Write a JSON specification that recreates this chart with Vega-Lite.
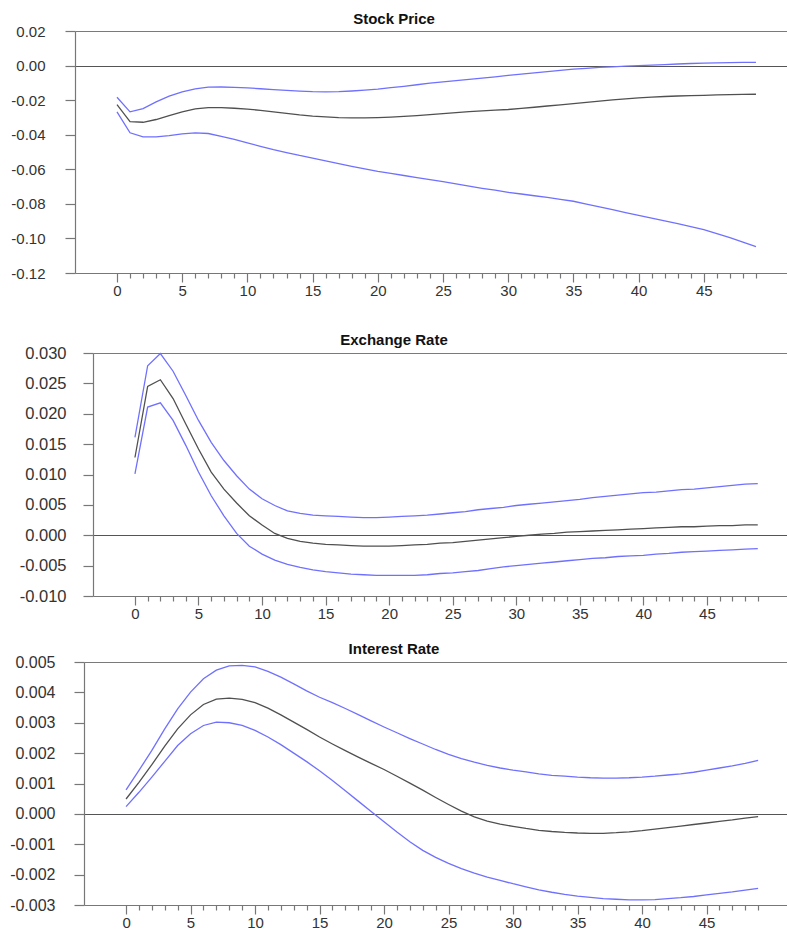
{
  "$schema": "https://vega.github.io/schema/vega-lite/v6.json",
  "padding": {"left": 0, "right": 0, "top": 12, "bottom": 0},
  "spacing": 0,
  "datasets": {
    "stock": [
      {"h": 0, "irf": -0.0226, "lo": -0.0268, "hi": -0.0183},
      {"h": 1, "irf": -0.0324, "lo": -0.0389, "hi": -0.0268},
      {"h": 2, "irf": -0.0328, "lo": -0.0413, "hi": -0.0249},
      {"h": 3, "irf": -0.0312, "lo": -0.0413, "hi": -0.0210},
      {"h": 4, "irf": -0.0289, "lo": -0.0405, "hi": -0.0177},
      {"h": 5, "irf": -0.0268, "lo": -0.0395, "hi": -0.0152},
      {"h": 6, "irf": -0.0251, "lo": -0.0389, "hi": -0.0135},
      {"h": 7, "irf": -0.0243, "lo": -0.0393, "hi": -0.0125},
      {"h": 8, "irf": -0.0243, "lo": -0.0409, "hi": -0.0124},
      {"h": 9, "irf": -0.0247, "lo": -0.0427, "hi": -0.0126},
      {"h": 10, "irf": -0.0252, "lo": -0.0447, "hi": -0.0129},
      {"h": 11, "irf": -0.0259, "lo": -0.0467, "hi": -0.0134},
      {"h": 12, "irf": -0.0268, "lo": -0.0486, "hi": -0.0139},
      {"h": 13, "irf": -0.0276, "lo": -0.0503, "hi": -0.0144},
      {"h": 14, "irf": -0.0285, "lo": -0.0520, "hi": -0.0148},
      {"h": 15, "irf": -0.0292, "lo": -0.0535, "hi": -0.0151},
      {"h": 16, "irf": -0.0297, "lo": -0.0551, "hi": -0.0152},
      {"h": 17, "irf": -0.0301, "lo": -0.0567, "hi": -0.0151},
      {"h": 18, "irf": -0.0303, "lo": -0.0583, "hi": -0.0147},
      {"h": 19, "irf": -0.0303, "lo": -0.0598, "hi": -0.0142},
      {"h": 20, "irf": -0.0301, "lo": -0.0612, "hi": -0.0136},
      {"h": 21, "irf": -0.0298, "lo": -0.0624, "hi": -0.0128},
      {"h": 22, "irf": -0.0294, "lo": -0.0636, "hi": -0.0120},
      {"h": 23, "irf": -0.0289, "lo": -0.0648, "hi": -0.0111},
      {"h": 24, "irf": -0.0284, "lo": -0.0660, "hi": -0.0102},
      {"h": 25, "irf": -0.0278, "lo": -0.0672, "hi": -0.0094},
      {"h": 26, "irf": -0.0272, "lo": -0.0685, "hi": -0.0087},
      {"h": 27, "irf": -0.0266, "lo": -0.0698, "hi": -0.0080},
      {"h": 28, "irf": -0.0262, "lo": -0.0710, "hi": -0.0073},
      {"h": 29, "irf": -0.0258, "lo": -0.0721, "hi": -0.0065},
      {"h": 30, "irf": -0.0254, "lo": -0.0733, "hi": -0.0057},
      {"h": 31, "irf": -0.0248, "lo": -0.0743, "hi": -0.0049},
      {"h": 32, "irf": -0.0241, "lo": -0.0753, "hi": -0.0042},
      {"h": 33, "irf": -0.0234, "lo": -0.0763, "hi": -0.0035},
      {"h": 34, "irf": -0.0227, "lo": -0.0774, "hi": -0.0028},
      {"h": 35, "irf": -0.0220, "lo": -0.0785, "hi": -0.0021},
      {"h": 36, "irf": -0.0213, "lo": -0.0801, "hi": -0.0016},
      {"h": 37, "irf": -0.0206, "lo": -0.0818, "hi": -0.0011},
      {"h": 38, "irf": -0.0199, "lo": -0.0834, "hi": -0.0007},
      {"h": 39, "irf": -0.0193, "lo": -0.0851, "hi": -0.0003},
      {"h": 40, "irf": -0.0187, "lo": -0.0867, "hi": 0.0000},
      {"h": 41, "irf": -0.0183, "lo": -0.0883, "hi": 0.0003},
      {"h": 42, "irf": -0.0179, "lo": -0.0899, "hi": 0.0006},
      {"h": 43, "irf": -0.0176, "lo": -0.0915, "hi": 0.0009},
      {"h": 44, "irf": -0.0174, "lo": -0.0932, "hi": 0.0012},
      {"h": 45, "irf": -0.0172, "lo": -0.0949, "hi": 0.0014},
      {"h": 46, "irf": -0.0170, "lo": -0.0972, "hi": 0.0016},
      {"h": 47, "irf": -0.0168, "lo": -0.0996, "hi": 0.0017},
      {"h": 48, "irf": -0.0167, "lo": -0.1021, "hi": 0.0018},
      {"h": 49, "irf": -0.0166, "lo": -0.1048, "hi": 0.0018}
    ],
    "fx": [
      {"h": 0, "irf": 0.0128, "lo": 0.0101, "hi": 0.0161},
      {"h": 1, "irf": 0.0245, "lo": 0.0211, "hi": 0.0279},
      {"h": 2, "irf": 0.0256, "lo": 0.0218, "hi": 0.0299},
      {"h": 3, "irf": 0.0225, "lo": 0.0189, "hi": 0.0270},
      {"h": 4, "irf": 0.0183, "lo": 0.0148, "hi": 0.0230},
      {"h": 5, "irf": 0.0142, "lo": 0.0104, "hi": 0.0189},
      {"h": 6, "irf": 0.0104, "lo": 0.0065, "hi": 0.0153},
      {"h": 7, "irf": 0.0076, "lo": 0.0032, "hi": 0.0123},
      {"h": 8, "irf": 0.0053, "lo": 0.0003, "hi": 0.0098},
      {"h": 9, "irf": 0.0032, "lo": -0.0018, "hi": 0.0076},
      {"h": 10, "irf": 0.0017, "lo": -0.0031, "hi": 0.0060},
      {"h": 11, "irf": 0.0003, "lo": -0.0041, "hi": 0.0049},
      {"h": 12, "irf": -0.0005, "lo": -0.0048, "hi": 0.0040},
      {"h": 13, "irf": -0.0010, "lo": -0.0053, "hi": 0.0036},
      {"h": 14, "irf": -0.0013, "lo": -0.0057, "hi": 0.0033},
      {"h": 15, "irf": -0.0015, "lo": -0.0060, "hi": 0.0032},
      {"h": 16, "irf": -0.0016, "lo": -0.0062, "hi": 0.0031},
      {"h": 17, "irf": -0.0017, "lo": -0.0064, "hi": 0.0030},
      {"h": 18, "irf": -0.0018, "lo": -0.0065, "hi": 0.0029},
      {"h": 19, "irf": -0.0018, "lo": -0.0066, "hi": 0.0029},
      {"h": 20, "irf": -0.0018, "lo": -0.0066, "hi": 0.0030},
      {"h": 21, "irf": -0.0017, "lo": -0.0066, "hi": 0.0031},
      {"h": 22, "irf": -0.0016, "lo": -0.0066, "hi": 0.0032},
      {"h": 23, "irf": -0.0015, "lo": -0.0065, "hi": 0.0033},
      {"h": 24, "irf": -0.0013, "lo": -0.0063, "hi": 0.0035},
      {"h": 25, "irf": -0.0012, "lo": -0.0062, "hi": 0.0037},
      {"h": 26, "irf": -0.0010, "lo": -0.0060, "hi": 0.0039},
      {"h": 27, "irf": -0.0008, "lo": -0.0058, "hi": 0.0042},
      {"h": 28, "irf": -0.0006, "lo": -0.0055, "hi": 0.0044},
      {"h": 29, "irf": -0.0004, "lo": -0.0052, "hi": 0.0046},
      {"h": 30, "irf": -0.0002, "lo": -0.0050, "hi": 0.0049},
      {"h": 31, "irf": 0.0000, "lo": -0.0048, "hi": 0.0051},
      {"h": 32, "irf": 0.0002, "lo": -0.0046, "hi": 0.0053},
      {"h": 33, "irf": 0.0003, "lo": -0.0044, "hi": 0.0055},
      {"h": 34, "irf": 0.0005, "lo": -0.0042, "hi": 0.0057},
      {"h": 35, "irf": 0.0006, "lo": -0.0040, "hi": 0.0059},
      {"h": 36, "irf": 0.0007, "lo": -0.0038, "hi": 0.0062},
      {"h": 37, "irf": 0.0008, "lo": -0.0037, "hi": 0.0064},
      {"h": 38, "irf": 0.0009, "lo": -0.0035, "hi": 0.0066},
      {"h": 39, "irf": 0.0010, "lo": -0.0034, "hi": 0.0068},
      {"h": 40, "irf": 0.0011, "lo": -0.0033, "hi": 0.0070},
      {"h": 41, "irf": 0.0012, "lo": -0.0031, "hi": 0.0071},
      {"h": 42, "irf": 0.0013, "lo": -0.0030, "hi": 0.0073},
      {"h": 43, "irf": 0.0014, "lo": -0.0028, "hi": 0.0075},
      {"h": 44, "irf": 0.0014, "lo": -0.0027, "hi": 0.0076},
      {"h": 45, "irf": 0.0015, "lo": -0.0026, "hi": 0.0078},
      {"h": 46, "irf": 0.0016, "lo": -0.0025, "hi": 0.0080},
      {"h": 47, "irf": 0.0016, "lo": -0.0024, "hi": 0.0082},
      {"h": 48, "irf": 0.0017, "lo": -0.0023, "hi": 0.0084},
      {"h": 49, "irf": 0.0017, "lo": -0.0022, "hi": 0.0085}
    ],
    "rate": [
      {"h": 0, "irf": 0.00049, "lo": 0.00024, "hi": 0.00079},
      {"h": 1, "irf": 0.00104, "lo": 0.00071, "hi": 0.00143},
      {"h": 2, "irf": 0.00162, "lo": 0.00121, "hi": 0.00209},
      {"h": 3, "irf": 0.00223, "lo": 0.00173, "hi": 0.00280},
      {"h": 4, "irf": 0.00280, "lo": 0.00225, "hi": 0.00346},
      {"h": 5, "irf": 0.00326, "lo": 0.00264, "hi": 0.00401},
      {"h": 6, "irf": 0.00360, "lo": 0.00291, "hi": 0.00445},
      {"h": 7, "irf": 0.00378, "lo": 0.00302, "hi": 0.00473},
      {"h": 8, "irf": 0.00381, "lo": 0.00300, "hi": 0.00487},
      {"h": 9, "irf": 0.00377, "lo": 0.00291, "hi": 0.00489},
      {"h": 10, "irf": 0.00366, "lo": 0.00275, "hi": 0.00484},
      {"h": 11, "irf": 0.00348, "lo": 0.00253, "hi": 0.00469},
      {"h": 12, "irf": 0.00326, "lo": 0.00228, "hi": 0.00450},
      {"h": 13, "irf": 0.00302, "lo": 0.00200, "hi": 0.00428},
      {"h": 14, "irf": 0.00278, "lo": 0.00172, "hi": 0.00405},
      {"h": 15, "irf": 0.00253, "lo": 0.00142, "hi": 0.00384},
      {"h": 16, "irf": 0.00230, "lo": 0.00110, "hi": 0.00366},
      {"h": 17, "irf": 0.00208, "lo": 0.00076, "hi": 0.00347},
      {"h": 18, "irf": 0.00187, "lo": 0.00042, "hi": 0.00327},
      {"h": 19, "irf": 0.00166, "lo": 0.00008, "hi": 0.00306},
      {"h": 20, "irf": 0.00146, "lo": -0.00026, "hi": 0.00286},
      {"h": 21, "irf": 0.00124, "lo": -0.00060, "hi": 0.00267},
      {"h": 22, "irf": 0.00101, "lo": -0.00092, "hi": 0.00248},
      {"h": 23, "irf": 0.00078, "lo": -0.00120, "hi": 0.00230},
      {"h": 24, "irf": 0.00054, "lo": -0.00143, "hi": 0.00212},
      {"h": 25, "irf": 0.00031, "lo": -0.00163, "hi": 0.00196},
      {"h": 26, "irf": 0.00009, "lo": -0.00180, "hi": 0.00182},
      {"h": 27, "irf": -0.00010, "lo": -0.00195, "hi": 0.00170},
      {"h": 28, "irf": -0.00024, "lo": -0.00208, "hi": 0.00160},
      {"h": 29, "irf": -0.00034, "lo": -0.00219, "hi": 0.00151},
      {"h": 30, "irf": -0.00041, "lo": -0.00230, "hi": 0.00144},
      {"h": 31, "irf": -0.00048, "lo": -0.00240, "hi": 0.00138},
      {"h": 32, "irf": -0.00054, "lo": -0.00250, "hi": 0.00132},
      {"h": 33, "irf": -0.00058, "lo": -0.00258, "hi": 0.00127},
      {"h": 34, "irf": -0.00061, "lo": -0.00265, "hi": 0.00124},
      {"h": 35, "irf": -0.00063, "lo": -0.00271, "hi": 0.00121},
      {"h": 36, "irf": -0.00064, "lo": -0.00275, "hi": 0.00119},
      {"h": 37, "irf": -0.00064, "lo": -0.00279, "hi": 0.00118},
      {"h": 38, "irf": -0.00062, "lo": -0.00281, "hi": 0.00118},
      {"h": 39, "irf": -0.00059, "lo": -0.00283, "hi": 0.00119},
      {"h": 40, "irf": -0.00055, "lo": -0.00283, "hi": 0.00121},
      {"h": 41, "irf": -0.00050, "lo": -0.00282, "hi": 0.00124},
      {"h": 42, "irf": -0.00045, "lo": -0.00279, "hi": 0.00128},
      {"h": 43, "irf": -0.00040, "lo": -0.00276, "hi": 0.00132},
      {"h": 44, "irf": -0.00035, "lo": -0.00272, "hi": 0.00137},
      {"h": 45, "irf": -0.00030, "lo": -0.00267, "hi": 0.00144},
      {"h": 46, "irf": -0.00025, "lo": -0.00262, "hi": 0.00151},
      {"h": 47, "irf": -0.00020, "lo": -0.00257, "hi": 0.00158},
      {"h": 48, "irf": -0.00014, "lo": -0.00251, "hi": 0.00166},
      {"h": 49, "irf": -0.00009, "lo": -0.00245, "hi": 0.00176}
    ]
  },
  "vconcat": [
    {
      "spacing": 0,
      "hconcat": [
        {"width": 1, "height": 1, "data": {"values": []}, "mark": {"type": "point", "opacity": 0}, "encoding": {}},
        {
          "title": "Stock Price",
          "width": 712,
          "height": 242,
          "data": {"name": "stock"},
          "transform": [{"fold": ["lo", "irf", "hi"], "as": ["band", "v"]}],
          "mark": {"type": "line", "strokeWidth": 1.3},
          "encoding": {
            "x": {
              "field": "h", "type": "quantitative",
              "scale": {"domain": [-3.22, 51.38], "nice": false, "zero": false},
              "axis": {
                "title": null, "minExtent": 60,
                "values": [0,1,2,3,4,5,6,7,8,9,10,11,12,13,14,15,16,17,18,19,20,21,22,23,24,25,26,27,28,29,30,31,32,33,34,35,36,37,38,39,40,41,42,43,44,45,46,47,48,49],
                "labelExpr": "datum.value % 5 === 0 ? datum.label : ''",
                "tickSize": {"condition": {"test": "datum.value % 5 === 0", "value": 9}, "value": 5},
                "labelPadding": 1, "labelOverlap": false, "labelFlush": false
              }
            },
            "y": {
              "field": "v", "type": "quantitative",
              "scale": {"domain": [-0.12, 0.02], "nice": false, "zero": false},
              "axis": {
                "title": null, "minExtent": 74, "format": ".2f",
                "values": [-0.12, -0.1, -0.08, -0.06, -0.04, -0.02, 0, 0.02],
                "tickSize": 10, "labelPadding": 20, "labelFontSize": 15,
                "labelFlush": false, "labelOverlap": false,
                "grid": true,
                "gridColor": {"condition": {"test": "datum.value === 0", "value": "#555555"}, "value": "#7a7a7a"},
                "gridOpacity": {"condition": {"test": "datum.value === 0 || datum.value === 0.02", "value": 1}, "value": 0}
              }
            },
            "color": {
              "field": "band", "type": "nominal",
              "scale": {"domain": ["lo", "irf", "hi"], "range": ["#7070ff", "#505050", "#7070ff"]},
              "legend": null
            }
          }
        }
      ]
    },
    {
      "spacing": 0,
      "hconcat": [
        {"width": 1, "height": 1, "data": {"values": []}, "mark": {"type": "point", "opacity": 0}, "encoding": {}},
        {
          "title": "Exchange Rate",
          "width": 694,
          "height": 243,
          "data": {"name": "fx"},
          "transform": [{"fold": ["lo", "irf", "hi"], "as": ["band", "v"]}],
          "mark": {"type": "line", "strokeWidth": 1.3},
          "encoding": {
            "x": {
              "field": "h", "type": "quantitative",
              "scale": {"domain": [-3.3, 51.3], "nice": false, "zero": false},
              "axis": {
                "title": null, "minExtent": 46,
                "values": [0,1,2,3,4,5,6,7,8,9,10,11,12,13,14,15,16,17,18,19,20,21,22,23,24,25,26,27,28,29,30,31,32,33,34,35,36,37,38,39,40,41,42,43,44,45,46,47,48,49],
                "labelExpr": "datum.value % 5 === 0 ? datum.label : ''",
                "tickSize": {"condition": {"test": "datum.value % 5 === 0", "value": 9}, "value": 5},
                "labelPadding": 1, "labelOverlap": false, "labelFlush": false
              }
            },
            "y": {
              "field": "v", "type": "quantitative",
              "scale": {"domain": [-0.01, 0.03], "nice": false, "zero": false},
              "axis": {
                "title": null, "minExtent": 92, "format": ".3f",
                "values": [-0.01, -0.005, 0, 0.005, 0.01, 0.015, 0.02, 0.025, 0.03],
                "tickSize": 10, "labelPadding": 17, "labelFontSize": 16.5,
                "labelFlush": false, "labelOverlap": false,
                "grid": true,
                "gridColor": {"condition": {"test": "datum.value === 0", "value": "#555555"}, "value": "#7a7a7a"},
                "gridOpacity": {"condition": {"test": "datum.value === 0 || datum.value === 0.03", "value": 1}, "value": 0}
              }
            },
            "color": {
              "field": "band", "type": "nominal",
              "scale": {"domain": ["lo", "irf", "hi"], "range": ["#7070ff", "#505050", "#7070ff"]},
              "legend": null
            }
          }
        }
      ]
    },
    {
      "spacing": 0,
      "hconcat": [
        {"width": 1, "height": 1, "data": {"values": []}, "mark": {"type": "point", "opacity": 0}, "encoding": {}},
        {
          "title": "Interest Rate",
          "width": 703,
          "height": 243,
          "data": {"name": "rate"},
          "transform": [{"fold": ["lo", "irf", "hi"], "as": ["band", "v"]}],
          "mark": {"type": "line", "strokeWidth": 1.3},
          "encoding": {
            "x": {
              "field": "h", "type": "quantitative",
              "scale": {"domain": [-3.26, 51.24], "nice": false, "zero": false},
              "axis": {
                "title": null, "minExtent": 26,
                "values": [0,1,2,3,4,5,6,7,8,9,10,11,12,13,14,15,16,17,18,19,20,21,22,23,24,25,26,27,28,29,30,31,32,33,34,35,36,37,38,39,40,41,42,43,44,45,46,47,48,49],
                "labelExpr": "datum.value % 5 === 0 ? datum.label : ''",
                "tickSize": {"condition": {"test": "datum.value % 5 === 0", "value": 9}, "value": 5},
                "labelPadding": 1, "labelOverlap": false, "labelFlush": false
              }
            },
            "y": {
              "field": "v", "type": "quantitative",
              "scale": {"domain": [-0.003, 0.005], "nice": false, "zero": false},
              "axis": {
                "title": null, "minExtent": 83, "format": ".3f",
                "values": [-0.003, -0.002, -0.001, 0, 0.001, 0.002, 0.003, 0.004, 0.005],
                "tickSize": 10, "labelPadding": 19, "labelFontSize": 16,
                "labelFlush": false, "labelOverlap": false,
                "grid": true,
                "gridColor": {"condition": {"test": "datum.value === 0", "value": "#555555"}, "value": "#7a7a7a"},
                "gridOpacity": {"condition": {"test": "datum.value === 0 || datum.value === 0.005", "value": 1}, "value": 0}
              }
            },
            "color": {
              "field": "band", "type": "nominal",
              "scale": {"domain": ["lo", "irf", "hi"], "range": ["#7070ff", "#505050", "#7070ff"]},
              "legend": null
            }
          }
        }
      ]
    }
  ],
  "config": {
    "view": {"stroke": null},
    "font": "Liberation Sans",
    "locale": {
      "number": {"decimal": ".", "thousands": ",", "grouping": [3], "currency": ["$", ""], "minus": "-"}
    },
    "axis": {
      "grid": false,
      "gridWidth": 1.2,
      "domainColor": "#777777",
      "domainWidth": 1.2,
      "tickColor": "#777777",
      "tickWidth": 1.2,
      "labelColor": "#333333",
      "labelFont": "Liberation Sans",
      "labelFontSize": 15,
      "labelOverlap": false
    },
    "title": {
      "font": "Liberation Sans",
      "fontSize": 15,
      "fontWeight": "bold",
      "color": "#111111",
      "anchor": "middle",
      "frame": "bounds",
      "offset": -3
    }
  }
}
